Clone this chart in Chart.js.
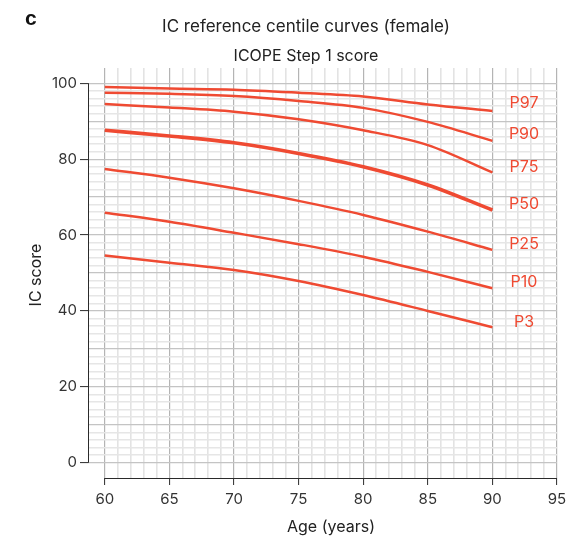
<!DOCTYPE html>
<html>
<head>
<meta charset="utf-8">
<script src="https://cdn.jsdelivr.net/npm/chart.js@4.4.1/dist/chart.umd.min.js"></script>
<style>
    html, body { margin: 0; padding: 0; background: #fff; }
    canvas { display: block; }
</style>
</head>
<body>
<canvas id="centileChart" width="566" height="537"></canvas>
<script>
// ----------------------------------
// Data
// ----------------------------------
const ages = [60, 65, 70, 75, 80, 85, 90];
const centileNames = ['P97', 'P90', 'P75', 'P50', 'P25', 'P10', 'P3'];
const p97 = [99.0, 98.6, 98.3, 97.5, 96.5, 94.4, 92.7];
const p90 = [97.5, 97.2, 96.6, 95.3, 93.5, 89.8, 84.8];
const p75 = [94.5, 93.6, 92.5, 90.5, 87.6, 83.7, 76.5];
const p50 = [87.6, 86.1, 84.3, 81.5, 78.0, 73.2, 66.6];
const p25 = [77.4, 75.1, 72.3, 69.0, 65.3, 60.9, 56.1];
const p10 = [65.9, 63.5, 60.6, 57.6, 54.3, 50.3, 46.0];
const p3  = [54.6, 52.7, 50.8, 47.9, 44.2, 40.0, 35.7];
// where the right-hand labels sit (IC score units)
const labelScores = [94.7, 86.6, 77.9, 68.2, 57.6, 47.6, 37.1];

const xTicks = [];
for (let a = 60; a <= 95; a++) xTicks.push(a);
const yTicks = [];
for (let s = 0; s <= 100; s += 2) yTicks.push(s);

const lineColor = '#ef4a32';
const fontFamily = 'Inter, "DejaVu Sans", sans-serif';

function toPoints(values) {
    return values.map((v, i) => ({ x: ages[i], y: v }));
}

const seriesList = [p97, p90, p75, p50, p25, p10, p3];
const datasets = seriesList.map((s, i) => ({
    label: centileNames[i],
    data: toPoints(s),
    borderColor: lineColor,
    borderWidth: centileNames[i] === 'P50' ? 3.6 : 2.5,
    pointRadius: 0,
    cubicInterpolationMode: 'monotone',
    fill: false
}));

// Titles, panel letter, axis titles, curve labels and capped axis lines
const decorPlugin = {
    id: 'decor',
    afterDraw(chart) {
        const ctx = chart.ctx;
        const xs = chart.scales.x;
        const ys = chart.scales.y;
        ctx.save();

        // axis lines only from first to last tick
        ctx.strokeStyle = '#2a2a2a';
        ctx.lineWidth = 1;
        ctx.beginPath();
        const ax = chart.chartArea.left + 0.5;
        ctx.moveTo(ax, ys.getPixelForValue(100));
        ctx.lineTo(ax, ys.getPixelForValue(0));
        const ay = chart.chartArea.bottom + 0.5;
        ctx.moveTo(xs.getPixelForValue(60), ay);
        ctx.lineTo(xs.getPixelForValue(95), ay);
        ctx.stroke();

        ctx.fillStyle = '#111';
        ctx.font = 'bold 21px "Liberation Sans", Arial, sans-serif';
        ctx.textAlign = 'left';
        ctx.textBaseline = 'middle';
        ctx.fillText('c', 25, 19);

        ctx.fillStyle = '#222';
        ctx.textAlign = 'center';
        ctx.font = '17px ' + fontFamily;
        ctx.fillText('IC reference centile curves (female)', 306, 27);
        ctx.font = '16px ' + fontFamily;
        ctx.fillText('ICOPE Step 1 score', 306, 56);

        ctx.fillText('Age (years)', 331, 527);
        ctx.save();
        ctx.translate(36, 275);
        ctx.rotate(-Math.PI / 2);
        ctx.fillText('IC score', 0, 0);
        ctx.restore();

        // curve labels at the right
        ctx.fillStyle = lineColor;
        ctx.font = '16px ' + fontFamily;
        centileNames.forEach((name, i) => {
            ctx.fillText(name, 524, ys.getPixelForValue(labelScores[i]));
        });
        ctx.restore();
    }
};

const ctx = document.getElementById('centileChart').getContext('2d');
new Chart(ctx, {
    type: 'line',
    data: { datasets: datasets },
    options: {
        responsive: false,
        animation: false,
        layout: { padding: { top: 68, right: 9, left: 0, bottom: 0 } },
        plugins: {
            legend: { display: false },
            tooltip: { enabled: false }
        },
        scales: {
            x: {
                type: 'linear',
                min: 58.7,
                max: 95,
                afterBuildTicks: (scale) => { scale.ticks = xTicks.map(v => ({ value: v })); },
                afterFit: (scale) => {
                    scale.height = 59;
                    scale.paddingLeft = 0;
                    scale.paddingRight = 0;
                },
                border: { display: false },
                grid: {
                    color: (c) => c.tick && c.tick.value % 5 === 0 ? '#b4b4b4' : '#e3e3e3',
                    lineWidth: (c) => c.tick && c.tick.value % 5 === 0 ? 1.2 : 1.6,
                    tickColor: (c) => c.tick && c.tick.value % 5 === 0 ? '#2a2a2a' : 'rgba(0,0,0,0)',
                    tickLength: 7,
                    tickWidth: 1
                },
                ticks: {
                    autoSkip: false,
                    maxRotation: 0,
                    padding: 5,
                    color: '#333',
                    font: { family: fontFamily, size: 15 },
                    callback: (v) => v % 5 === 0 ? String(v) : ''
                }
            },
            y: {
                type: 'linear',
                min: -4,
                max: 104,
                afterBuildTicks: (scale) => { scale.ticks = yTicks.map(v => ({ value: v })); },
                afterFit: (scale) => {
                    scale.width = 88;
                    scale.paddingTop = 0;
                    scale.paddingBottom = 0;
                },
                border: { display: false },
                grid: {
                    color: (c) => c.tick && c.tick.value % 10 === 0 ? '#c4c4c4' : '#e6e6e6',
                    lineWidth: (c) => c.tick && c.tick.value % 10 === 0 ? 1.2 : 1.6,
                    tickColor: (c) => c.tick && c.tick.value % 20 === 0 ? '#2a2a2a' : 'rgba(0,0,0,0)',
                    tickLength: 8,
                    tickWidth: 1
                },
                ticks: {
                    autoSkip: false,
                    padding: 3,
                    color: '#333',
                    font: { family: fontFamily, size: 15 },
                    callback: (v) => v % 20 === 0 ? String(v) : ''
                }
            }
        }
    },
    plugins: [decorPlugin]
});
</script>
</body>
</html>
